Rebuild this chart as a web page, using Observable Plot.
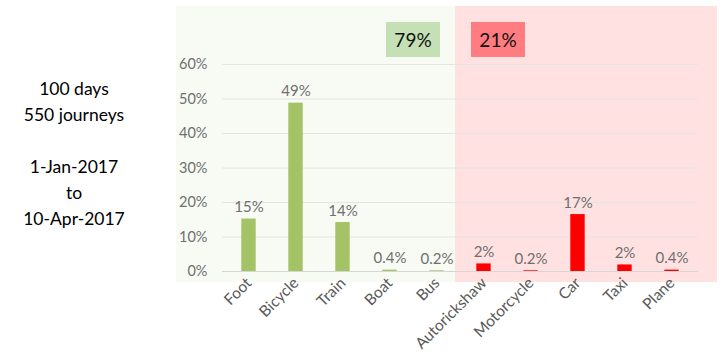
<!DOCTYPE html>
<html>
<head>
<meta charset="utf-8">
<script src="https://cdn.jsdelivr.net/npm/d3@7"></script>
<script src="https://cdn.jsdelivr.net/npm/@observablehq/plot@0.6"></script>
<style>
  html, body { margin: 0; padding: 0; background: #ffffff; }
  #wrap { position: relative; width: 723px; height: 362px; font-family: Lato, "Open Sans", sans-serif; overflow: hidden; }
  .panel { position: absolute; top: 6px; height: 276px; }
  #chart { position: absolute; left: 0; top: 0; }
  #side { position: absolute; left: 0; width: 148px; top: 76px; text-align: center; font-size: 17.5px; line-height: 26px; color: #000; }
  .box { position: absolute; top: 22px; height: 35px; width: 54px; line-height: 35px; text-align: center; font-size: 19px; color: #111; }
</style>
</head>
<body>
<div id="wrap">
  <div class="panel" style="left:176px;width:279px;background:#f8fbf4;"></div>
  <div class="panel" style="left:455px;width:262px;background:#ffe1e1;"></div>
  <div id="side"></div>
  <div id="boxes"></div>
  <div id="chart"></div>
</div>
<script>
const categories = ["Foot", "Bicycle", "Train", "Boat", "Bus", "Autorickshaw", "Motorcycle", "Car", "Taxi", "Plane"];
const shares = [0.152, 0.488, 0.142, 0.004, 0.002, 0.022, 0.002, 0.165, 0.019, 0.004];
const shareLabels = ["15%", "49%", "14%", "0.4%", "0.2%", "2%", "0.2%", "17%", "2%", "0.4%"];
const groups = ["low", "low", "low", "low", "low", "high", "high", "high", "high", "high"];
const groupTotals = ["79%", "21%"];
const groupColors = ["#c5e0b4", "#ff7c80"];
const yTicks = [0, 0.1, 0.2, 0.3, 0.4, 0.5, 0.6];
const sideLines = ["100 days", "550 journeys", "", "1-Jan-2017", "to", "10-Apr-2017"];

const data = categories.map((c, i) => ({cat: c, v: shares[i], label: shareLabels[i], g: groups[i]}));

document.getElementById("side").innerHTML = sideLines.map(s => `<div>${s || "&nbsp;"}</div>`).join("");
const boxLefts = [386, 471];
document.getElementById("boxes").innerHTML = groupTotals.map((t, i) =>
  `<div class="box" style="left:${boxLefts[i]}px;background:${groupColors[i]}">${t}</div>`).join("");

const chart = Plot.plot({
  width: 723,
  height: 362,
  marginLeft: 222,
  marginRight: 25,
  marginTop: 64,
  marginBottom: 91,
  style: {background: "transparent", fontFamily: "Lato, 'Open Sans', sans-serif", fontSize: "14px", color: "#6f6f6f"},
  x: {domain: categories, padding: 0, label: null},
  y: {domain: [0, 0.6], label: null},
  color: {domain: ["low", "high"], range: ["#a4c266", "#ff0000"]},
  marks: [
    Plot.ruleY(yTicks, {stroke: "#e4e4e4", strokeWidth: 1}),
    Plot.ruleY([0], {stroke: "#d6d6d6", strokeWidth: 1}),
    Plot.axisY({ticks: yTicks, tickFormat: d3.format(".0%"), tickSize: 0, tickPadding: 15, fontSize: 14.5, fill: "#6f6f6f"}),
    Plot.axisX({tickSize: 0, tickRotate: -45, tickPadding: 9, fontSize: 15.5, fill: "#595959"}),
    Plot.barY(data, {x: "cat", y: "v", fill: "g", insetLeft: 16.3, insetRight: 16.3}),
    Plot.text(data, {x: "cat", y: "v", text: "label", lineAnchor: "bottom", dy: -7, fontSize: 15, fill: "#6f6f6f"})
  ]
});
document.getElementById("chart").appendChild(chart);
</script>
</body>
</html>
